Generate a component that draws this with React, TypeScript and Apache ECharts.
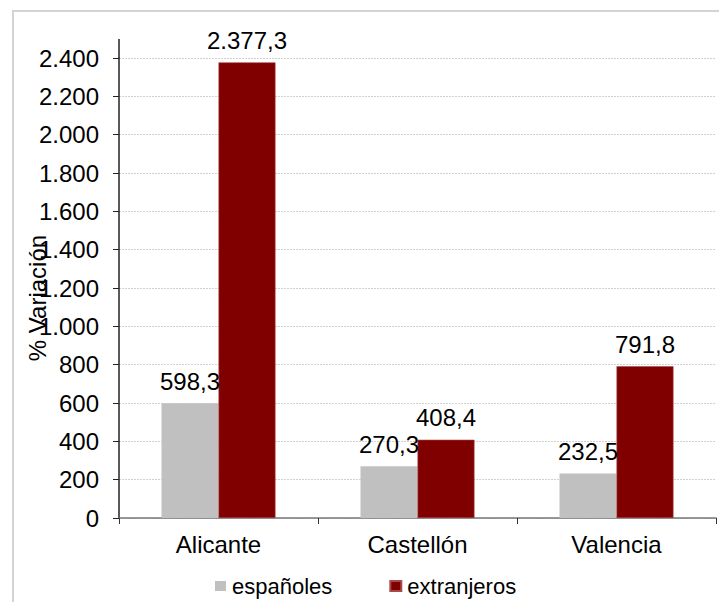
import React, { useEffect, useRef } from "react";
import * as echarts from "echarts";

const categories = ["Alicante", "Castellón", "Valencia"];
const espanoles = [598.3, 270.3, 232.5];
const extranjeros = [2377.3, 408.4, 791.8];
const seriesNames = ["españoles", "extranjeros"];
const yTicks = { min: 0, max: 2400, interval: 200 };

const FONT = "'Liberation Sans', Arial, sans-serif";

function fmtEs(v: number, decimals: number): string {
  const s = v.toFixed(decimals);
  const [intPart, dec] = s.split(".");
  const withDots = intPart.replace(/\B(?=(\d{3})+(?!\d))/g, ".");
  return dec !== undefined ? withDots + "," + dec : withDots;
}

export default function App() {
  const ref = useRef<HTMLDivElement>(null);
  useEffect(() => {
    if (!ref.current) return;
    const chart = echarts.init(ref.current, undefined, { renderer: "svg" });
    const labelStyle = {
      show: true,
      position: "top" as const,
      distance: 10,
      color: "#000",
      fontSize: 24,
      fontFamily: FONT,
      formatter: (p: any) => fmtEs(p.value, 1),
    };
    chart.setOption({
      animation: false,
      backgroundColor: "#fff",
      textStyle: { fontFamily: FONT },
      grid: { left: 119, right: 3, top: 58, bottom: 84, containLabel: false },
      legend: {
        data: seriesNames,
        left: 215,
        top: 575,
        padding: 0,
        itemWidth: 11,
        itemHeight: 10,
        itemGap: 57,
        icon: "rect",
        textStyle: { fontSize: 22, color: "#000", fontFamily: FONT, padding: [0, 0, 0, 1] },
      },
      xAxis: {
        type: "category",
        data: categories,
        axisLine: { show: true, lineStyle: { color: "#777", width: 1.5 } },
        axisTick: { show: true, length: 6, lineStyle: { color: "#333" } },
        axisLabel: { fontSize: 24, color: "#000", margin: 14, fontFamily: FONT },
      },
      yAxis: {
        type: "value",
        min: yTicks.min,
        max: yTicks.max,
        interval: yTicks.interval,
        axisLine: { show: true, lineStyle: { color: "#222", width: 1.5 } },
        axisTick: { show: true, length: 6, lineStyle: { color: "#222" } },
        axisLabel: {
          fontSize: 24,
          color: "#000",
          margin: 20,
          fontFamily: FONT,
          formatter: (v: number) => fmtEs(v, 0),
        },
        splitLine: { show: true, lineStyle: { color: "#d0d0d0", type: [2, 1], width: 1 } },
      },
      series: [
        {
          name: seriesNames[0],
          type: "bar",
          data: espanoles,
          barWidth: 57,
          barGap: "0%",
          itemStyle: { color: "#C0C0C0" },
          label: labelStyle,
        },
        {
          name: seriesNames[1],
          type: "bar",
          data: extranjeros,
          barWidth: 57,
          barGap: "0%",
          itemStyle: { color: "#800000", borderColor: "#a84a4a", borderWidth: 0.6 },
          label: labelStyle,
        },
      ],
      graphic: [
        {
          type: "rect",
          shape: { x: 13, y: 11, width: 720, height: 610 },
          style: { fill: "none", stroke: "#d4d4d4", lineWidth: 2 },
          silent: true,
          z: -1,
        },
        {
          type: "line",
          shape: { x1: 119, y1: 39, x2: 119, y2: 58 },
          style: { stroke: "#222", lineWidth: 1.5 },
          silent: true,
        },
        {
          type: "text",
          x: 37,
          y: 298,
          rotation: Math.PI / 2,
          style: {
            text: "% Variación",
            fontSize: 24,
            fontFamily: FONT,
            fill: "#000",
            align: "center",
            verticalAlign: "middle",
          },
          silent: true,
        },
      ],
    });
    return () => chart.dispose();
  }, []);
  return (
    <div
      ref={ref}
      style={{ position: "fixed", left: 0, top: 0, width: 719, height: 602 }}
    />
  );
}
